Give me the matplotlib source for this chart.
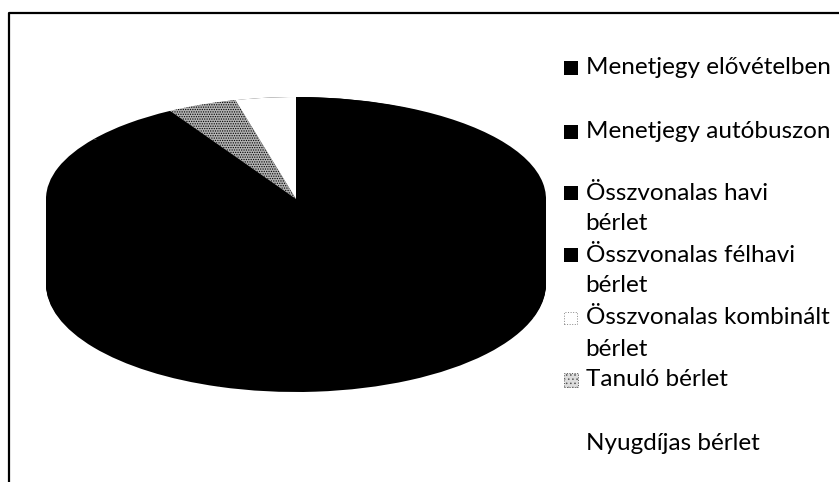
import matplotlib
matplotlib.use('Agg')
import matplotlib.pyplot as plt
from matplotlib.patches import Rectangle

labels = ['Menetjegy elővételben', 'Menetjegy autóbuszon', 'Összvonalas havi\nbérlet',
          'Összvonalas félhavi\nbérlet', 'Összvonalas kombinált\nbérlet', 'Tanuló bérlet', 'Nyugdíjas bérlet']
# share of each slice, percent (estimated)
values = [30.0, 25.0, 20.0, 10.0, 6.6, 4.5, 3.9]
colors = ['black', 'black', 'black', 'black', 'black', '#b4b4b4', 'white']
label_y = [68, 132, 193, 255, 318, 380, 443]

W, H = 839, 482
cx, rx = 296, 250
cy, ry = 199, 102           # top face, apex of the slices
side_cy, side_ry, depth = 205, 108, 79   # outline of the body

plt.rcParams['font.family'] = ['Lato', 'DejaVu Sans']
plt.rcParams['hatch.linewidth'] = 0.6
fig = plt.figure(figsize=(W / 100, H / 100), dpi=100)

# body of the pie, black layers going down
ax_side = fig.add_axes([0, 0, 1, 1])
for d in range(0, depth + 1):
    ax_side.pie(values, colors=['black'] * len(values), center=(0, -d / side_ry),
                startangle=90, counterclock=False)
ax_side.set_aspect('auto')
ax_side.set_xlim((0 - cx) / rx, (W - cx) / rx)
ax_side.set_ylim((side_cy - H) / side_ry, side_cy / side_ry)
ax_side.axis('off')

# top face with the white and stippled slices
ax = fig.add_axes([0, 0, 1, 1])
ax.patch.set_alpha(0)
wedges, _ = ax.pie(values, colors=colors, startangle=90, counterclock=False)
wedges[5].set_hatch('.......')
wedges[5].set_edgecolor('black')
wedges[5].set_linewidth(0)
ax.set_aspect('auto')
ax.set_xlim((0 - cx) / rx, (W - cx) / rx)
ax.set_ylim((cy - H) / ry, cy / ry)
ax.axis('off')


def px(x):
    return (x - cx) / rx


def py(y):
    return (cy - y) / ry


# frame of the scanned chart
ax.plot([px(9), px(9), px(W)], [py(H), py(13), py(13)], color='black', lw=1.6, clip_on=False)

# legend
for i, y in enumerate(label_y):
    parts = labels[i].split('\n')
    ax.text(px(586), py(y), parts[0], fontsize=17.5, va='center', ha='left', color='black')
    if len(parts) > 1:
        ax.text(px(585), py(y + 31), parts[1], fontsize=17.5, va='center', ha='left', color='black')
    if i < 4:
        ax.add_patch(Rectangle((px(564), py(y + 7)), 14 / rx, 14 / ry, facecolor='black', lw=0))
    elif i == 4:
        ax.add_patch(Rectangle((px(564), py(y + 6)), 13 / rx, 12 / ry, facecolor='white',
                               edgecolor='#888888', lw=0.7, ls=':'))
    elif i == 5:
        ax.add_patch(Rectangle((px(564), py(y + 7)), 14 / rx, 14 / ry, facecolor='#dddddd',
                               edgecolor='#555555', lw=0.7, ls=':', hatch='....'))

fig.savefig('out.png', dpi=100)
